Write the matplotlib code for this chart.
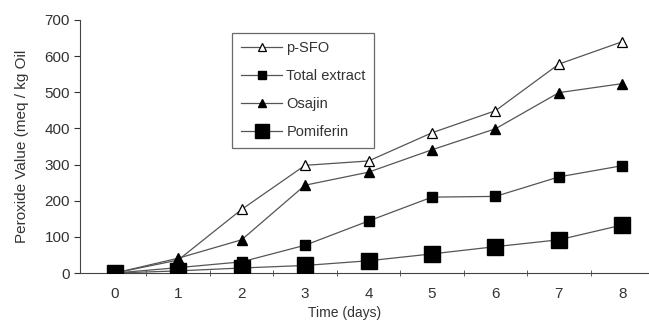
import numpy as np
import matplotlib.pyplot as plt
from matplotlib.ticker import MultipleLocator

# days of storage
dias = [0, 1, 2, 3, 4, 5, 6, 7, 8]

# peroxide value (meq / kg oil) for each treatment
p_sfo = [0, 36, 176, 298, 310, 388, 449, 578, 640]
total_extract = [0, 15, 31, 77, 144, 210, 212, 266, 297]
osajin = [0, 41, 92, 243, 279, 341, 399, 499, 524]
pomiferin = [0, 6, 14, 21, 34, 53, 73, 92, 133]

plt.rcParams['font.family'] = ['Liberation Sans', 'DejaVu Sans']
gris = '#333333'

fig = plt.figure(figsize=(6.49, 3.22), dpi=100)
ax = fig.add_axes([0.123, 0.152, 0.877, 0.786])

ax.plot(dias, p_sfo, color='#555555', lw=0.9, marker='^', ms=7,
        mfc='white', mec='black', mew=0.9, label='p-SFO', zorder=3)
ax.plot(dias, total_extract, color='#555555', lw=0.9, marker='s', ms=7,
        mfc='black', mec='black', label='Total extract', zorder=3)
ax.plot(dias, osajin, color='#555555', lw=0.9, marker='^', ms=7.5,
        mfc='black', mec='black', label='Osajin', zorder=3)
ax.plot(dias, pomiferin, color='#555555', lw=0.9, marker='s', ms=12,
        mfc='black', mec='black', label='Pomiferin', zorder=4)

ax.set_xlim(-0.55, 8.42)
ax.set_ylim(0, 700)
ax.yaxis.set_major_locator(MultipleLocator(100))
ax.set_xticks(dias)
ax.set_xticks(np.arange(0.5, 8.5, 1), minor=True)
ax.tick_params(axis='x', which='major', length=0, pad=10, labelsize=11, colors=gris)
ax.tick_params(axis='x', which='minor', length=4, direction='inout', color='#444444')
ax.tick_params(axis='y', which='major', length=4, labelsize=11, colors=gris, pad=3)

for s in ['top', 'right']:
    ax.spines[s].set_visible(False)
ax.spines['left'].set_color('#444444')
ax.spines['bottom'].set_color('#444444')

ax.set_ylabel('Peroxide Value (meq / kg Oil', fontsize=11, color=gris)
ax.yaxis.set_label_coords(-0.09, 0.5)
ax.set_xlabel('Time (days)', fontsize=10, color=gris)
ax.xaxis.label.set_va('top')
ax.xaxis.set_label_coords(0.466, -0.132)

leg = ax.legend(loc='upper left', bbox_to_anchor=(0.268, 0.95), frameon=True,
                fancybox=False, edgecolor='#444444', fontsize=10.5,
                handlelength=2.8, borderpad=0.6, labelspacing=0.95,
                handletextpad=0.3, borderaxespad=0, markerscale=0.85)
leg.get_frame().set_linewidth(0.9)
for t in leg.get_texts():
    t.set_color(gris)

fig.savefig('out.png', dpi=100)
